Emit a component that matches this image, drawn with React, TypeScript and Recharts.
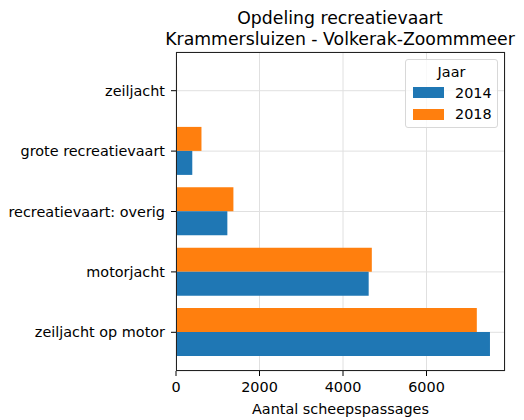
import React from "react";
import { BarChart, Bar, XAxis, YAxis, CartesianGrid } from "recharts";

const categories = ["zeiljacht", "grote recreatievaart", "recreatievaart: overig", "motorjacht", "zeiljacht op motor"];
const values2014 = [20, 390, 1230, 4615, 7520];
const values2018 = [25, 610, 1375, 4690, 7205];
const xTicks = [0, 2000, 4000, 6000];
const seriesNames = ["2014", "2018"];

const data = categories.map((c, i) => ({ name: c, y2014: values2014[i], y2018: values2018[i] }));

const FONT = "'DejaVu Sans', sans-serif";
const BLUE = "#1f77b4";
const ORANGE = "#ff7f0e";
const FS = 14.4;

if (typeof document !== "undefined") document.body.style.margin = "0";

const XTick = (props: any) => {
  const { x, y, payload } = props;
  return (
    <g>
      <line x1={x} x2={x} y1={y - 8} y2={y - 3} stroke="#000" strokeWidth={1} />
      <text x={x} y={y + 13} textAnchor="middle" fontSize={FS} fontFamily={FONT} fill="#000">
        {payload.value}
      </text>
    </g>
  );
};

const YTick = (props: any) => {
  const { x, y, payload } = props;
  return (
    <g>
      <line x1={x + 3} x2={x + 8} y1={y} y2={y} stroke="#000" strokeWidth={1} />
      <text x={x - 3} y={y + 5} textAnchor="end" fontSize={FS} fontFamily={FONT} fill="#000">
        {payload.value}
      </text>
    </g>
  );
};

export default function App() {
  return (
    <div style={{ position: "relative", width: 524, height: 420, background: "#fff", fontFamily: FONT }}>
      <BarChart
        width={524}
        height={420}
        data={data}
        layout="vertical"
        margin={{ top: 52, right: 19, bottom: 0, left: 0 }}
        barGap={0}
      >
        <CartesianGrid stroke="#e0e0e0" strokeWidth={1} />
        <XAxis
          type="number"
          domain={[0, 7880]}
          ticks={xTicks}
          allowDataOverflow
          height={49}
          axisLine={false}
          tickLine={false}
          tick={<XTick />}
          interval={0}
        />
        <YAxis
          type="category"
          dataKey="name"
          width={176}
          axisLine={false}
          tickLine={false}
          tick={<YTick />}
          interval={0}
          padding={{ top: 8.5, bottom: 8.5 }}
        />
        <Bar dataKey="y2018" fill={ORANGE} barSize={24} isAnimationActive={false} />
        <Bar dataKey="y2014" fill={BLUE} barSize={24} isAnimationActive={false} />
      </BarChart>

      {/* plot frame */}
      <div
        style={{
          position: "absolute",
          left: 176,
          top: 52,
          width: 505 - 176,
          height: 371 - 52,
          border: "1px solid #222",
          boxSizing: "border-box",
          pointerEvents: "none",
        }}
      />

      {/* titles */}
      <div style={{ position: "absolute", left: 140, width: 400, top: 8, textAlign: "center", fontSize: 17.3, lineHeight: "20.7px", color: "#000", whiteSpace: "nowrap" }}>
        Opdeling recreatievaart
        <br />
        Krammersluizen - Volkerak-Zoommmeer
      </div>
      <div style={{ position: "absolute", left: 176, width: 329, top: 400.5, lineHeight: "17px", textAlign: "center", fontSize: FS, color: "#000" }}>
        Aantal scheepspassages
      </div>

      {/* legend */}
      <div
        style={{
          position: "absolute",
          left: 405,
          top: 59,
          width: 93,
          height: 69,
          border: "1px solid #d8d8d8",
          borderRadius: 3,
          background: "rgba(255,255,255,0.8)",
          boxSizing: "border-box",
          fontSize: FS,
          lineHeight: "17px",
          color: "#000",
        }}
      >
        <div style={{ position: "absolute", left: 0, width: 91, top: 3.5, textAlign: "center" }}>Jaar</div>
        {seriesNames.map((s, i) => (
          <React.Fragment key={s}>
            <div
              style={{
                position: "absolute",
                left: 7,
                top: 27 + i * 22.3,
                width: 31,
                height: 11,
                background: i === 0 ? BLUE : ORANGE,
              }}
            />
            <div style={{ position: "absolute", left: 49, top: 24.5 + i * 21.5 }}>{s}</div>
          </React.Fragment>
        ))}
      </div>
    </div>
  );
}
